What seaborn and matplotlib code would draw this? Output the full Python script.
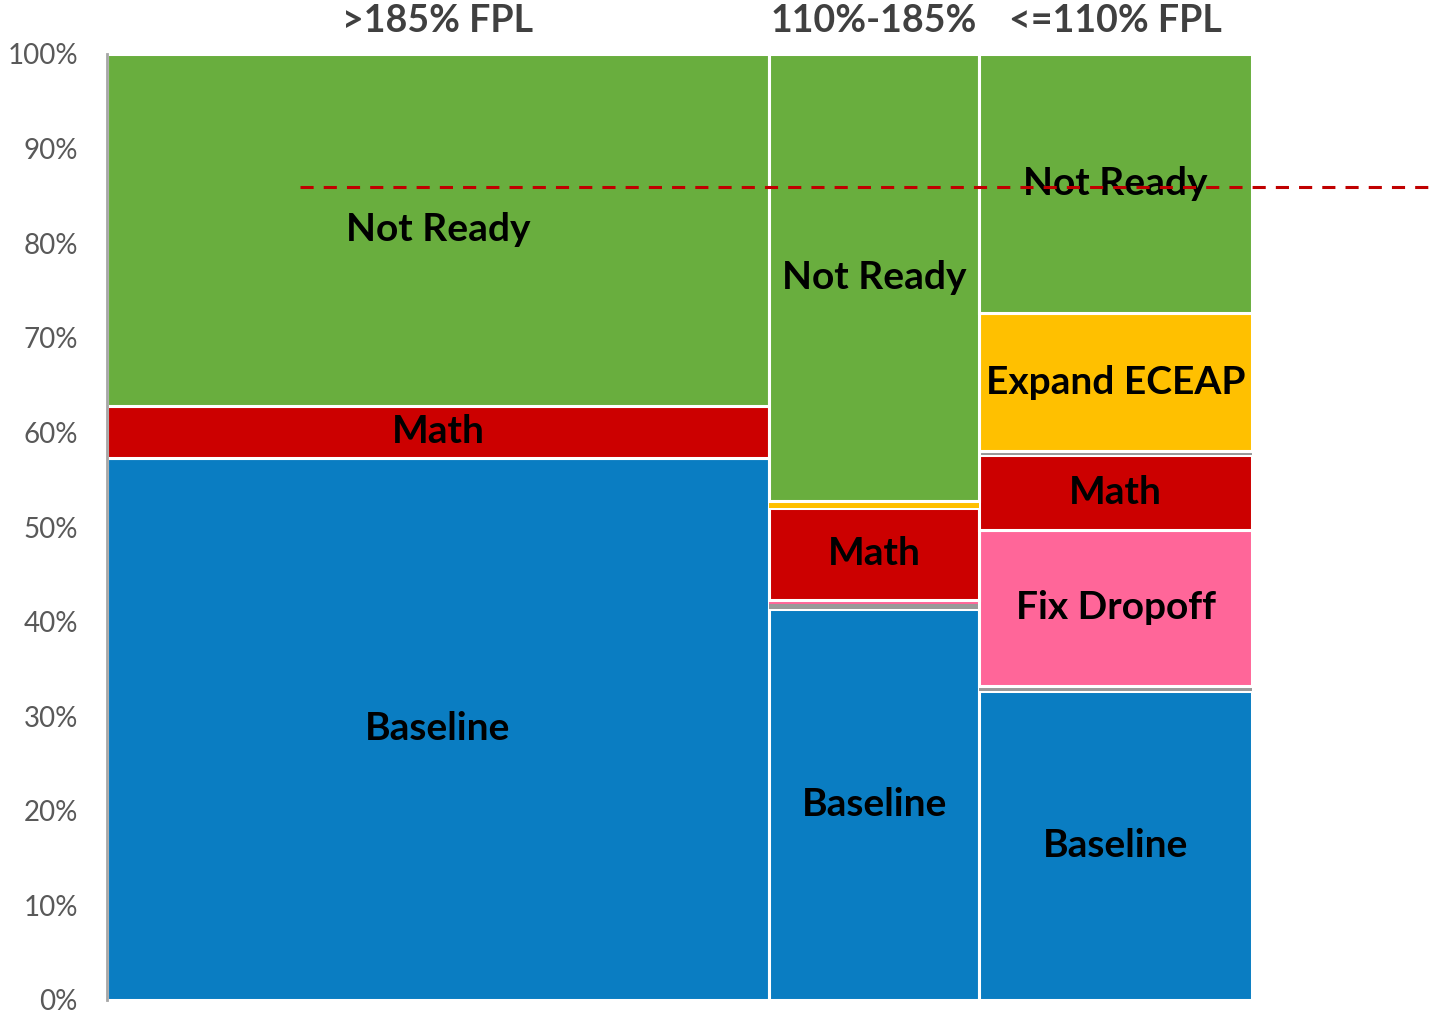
import numpy as np
import matplotlib
matplotlib.use("Agg")
import matplotlib.pyplot as plt
import seaborn as sns

# income groups (column headers) and their share of children (column widths, %)
groups = [">185% FPL", "110%-185%", "<=110% FPL"]
group_share = [57.8, 18.4, 23.8]

# stacked segments, bottom to top (% within each group)
segments = ["Baseline", "Other A", "Fix Dropoff", "Math", "Other B", "Expand ECEAP", "Not Ready"]
baseline = [57.3, 41.3, 32.7]
other_a = [0.0, 0.6, 0.5]
fix_dropoff = [0.0, 0.4, 16.5]
math_ = [5.5, 9.7, 7.9]
other_b = [0.0, 0.0, 0.4]
expand_eceap = [0.0, 0.7, 14.6]
not_ready = [37.2, 47.3, 27.4]

# which segments get a text label
shown = ["Baseline", "Fix Dropoff", "Math", "Expand ECEAP", "Not Ready"]

target_line = 85.9  # dashed reference line (%)

colors = {
    "Baseline": "#0A7DC2",
    "Other A": "#999999",
    "Fix Dropoff": "#FF6699",
    "Math": "#CC0000",
    "Other B": "#999999",
    "Expand ECEAP": "#FFC000",
    "Not Ready": "#69AE3E",
}

values = {
    "Baseline": baseline,
    "Other A": other_a,
    "Fix Dropoff": fix_dropoff,
    "Math": math_,
    "Other B": other_b,
    "Expand ECEAP": expand_eceap,
    "Not Ready": not_ready,
}

sns.set_style("white")
plt.rcParams["font.family"] = ["Lato", "DejaVu Sans"]

fig = plt.figure(figsize=(14.35, 10.16), dpi=100)
ax = fig.add_axes([107 / 1435, 16 / 1016, 1 - 107 / 1435, (1000 - 54) / 1016])

total = sum(group_share)
widths = np.array(group_share) / total
lefts = np.concatenate([[0], np.cumsum(widths)[:-1]])
centers = lefts + widths / 2

bottom = np.zeros(len(groups))
for seg in segments:
    h = np.array(values[seg])
    # thin slivers are drawn without the white border so they stay visible
    lw = np.where(h < 1.5, 0.0, 2.2)
    ax.bar(lefts, h, width=widths, bottom=bottom, align="edge",
           color=colors[seg], edgecolor="white", linewidth=lw, zorder=2)
    if seg in shown:
        for i in range(len(groups)):
            if h[i] > 3:
                ax.text(centers[i], bottom[i] + h[i] / 2, seg, ha="center", va="center",
                        fontsize=28, fontweight="bold", color="black", zorder=4)
    bottom += h

for i, g in enumerate(groups):
    ax.text(centers[i], 103.5, g, ha="center", va="center", fontsize=27,
            fontweight="bold", color="#404040", clip_on=False)

xmax = 1 + (1435 - 1252) / (1252 - 107)
ax.plot([(300 - 107) / (1252 - 107), xmax], [target_line, target_line],
        color="#C00000", linewidth=2.2, dashes=(4.3, 3.3), zorder=5, clip_on=False)

ax.set_xlim(0, xmax)
ax.set_ylim(0, 100)
ax.set_xticks([])
ax.set_yticks(np.arange(0, 101, 10))
ax.set_yticklabels([f"{v}%" for v in range(0, 101, 10)], fontsize=20, color="#595959")
ax.tick_params(axis="y", length=0, pad=21)
sns.despine(ax=ax, top=True, right=True, bottom=True)
ax.spines["left"].set_color("#A6A6A6")
ax.spines["left"].set_linewidth(2)

fig.savefig("out.png", dpi=100)
